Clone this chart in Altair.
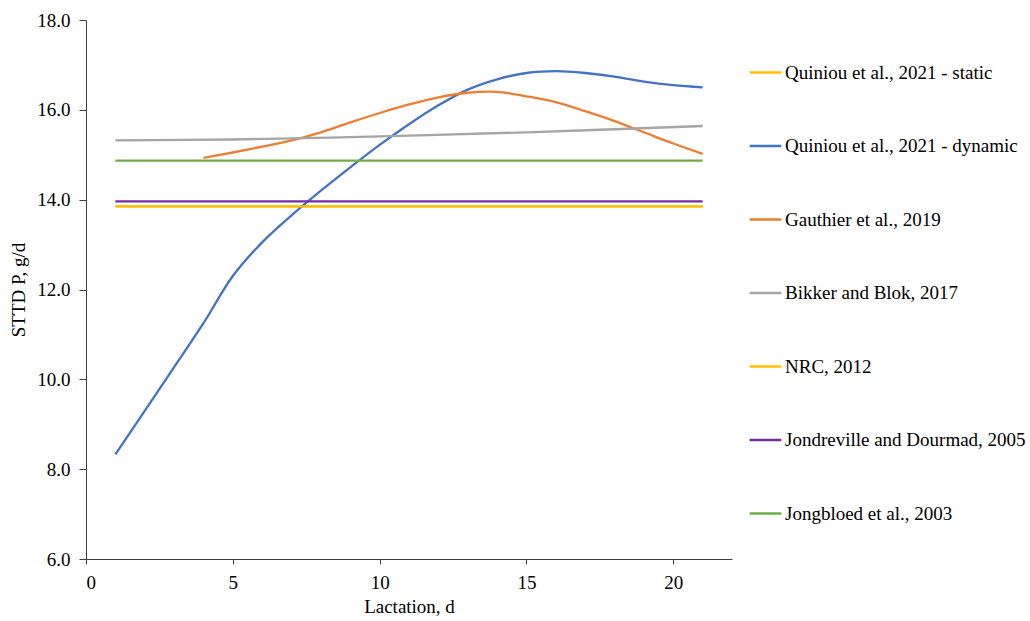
import altair as alt
import pandas as pd

series_names = [
    "Quiniou et al., 2021 - static",
    "Quiniou et al., 2021 - dynamic",
    "Gauthier et al., 2019",
    "Bikker and Blok, 2017",
    "NRC, 2012",
    "Jondreville and Dourmad, 2005",
    "Jongbloed et al., 2003",
]
series_colors = ["#FFC000", "#4472C4", "#ED7D31", "#A5A5A5", "#FFC000", "#7030A0", "#70AD47"]

static_x = [1, 21]
static_y = [13.85, 13.85]

dynamic_x = list(range(1, 22))
dynamic_y = [8.33, 9.3, 10.27, 11.25, 12.3, 13.05, 13.65, 14.2, 14.72, 15.22, 15.68,
             16.1, 16.45, 16.68, 16.82, 16.86, 16.82, 16.74, 16.63, 16.55, 16.5]

gauthier_x = list(range(4, 22))
gauthier_y = [14.93, 15.05, 15.18, 15.32, 15.5, 15.72, 15.93, 16.12, 16.28, 16.38, 16.4,
              16.3, 16.17, 15.97, 15.75, 15.5, 15.25, 15.02]

bikker_x = [1, 5, 10, 15, 21]
bikker_y = [15.32, 15.34, 15.41, 15.5, 15.64]

nrc_x = [1, 21]
nrc_y = [13.85, 13.85]

jondreville_x = [1, 21]
jondreville_y = [13.96, 13.96]

jongbloed_x = [1, 21]
jongbloed_y = [14.87, 14.87]

x_ticks = [0, 5, 10, 15, 20]
y_ticks = [6, 8, 10, 12, 14, 16, 18]

all_x = [static_x, dynamic_x, gauthier_x, bikker_x, nrc_x, jondreville_x, jongbloed_x]
all_y = [static_y, dynamic_y, gauthier_y, bikker_y, nrc_y, jondreville_y, jongbloed_y]

rows = []
for i, (name, xs, ys) in enumerate(zip(series_names, all_x, all_y)):
    for x, y in zip(xs, ys):
        rows.append({"series": name, "order": i, "day": x, "value": y})
df = pd.DataFrame(rows)

FONT = "Liberation Serif"

chart = alt.Chart(df).mark_line(interpolate="catmull-rom", strokeWidth=2.3).encode(
    x=alt.X("day:Q", scale=alt.Scale(domain=[0, 22], nice=False),
            axis=alt.Axis(values=x_ticks, title="Lactation, d", tickSize=5,
                          labelPadding=9, titlePadding=5)),
    y=alt.Y("value:Q", scale=alt.Scale(domain=[6, 18], nice=False),
            axis=alt.Axis(values=y_ticks, format=".1f", title="STTD P, g/d", tickSize=7,
                          labelPadding=9, titlePadding=8)),
    color=alt.Color("series:N", sort=series_names,
                    scale=alt.Scale(domain=series_names, range=series_colors),
                    legend=alt.Legend(title=None, orient="none", legendX=662, legendY=35,
                                      symbolType="stroke", symbolStrokeWidth=2.5,
                                      symbolSize=1000, rowPadding=45.5, labelOffset=2,
                                      labelLimit=400)),
    detail="order:N",
).properties(
    width=646, height=539,
    autosize=alt.AutoSizeParams(type="none"),
    padding={"left": 86, "top": 20, "right": 298, "bottom": 62},
).configure(
    background="white", font=FONT
).configure_axis(
    labelFont=FONT, titleFont=FONT, labelFontSize=19, titleFontSize=19,
    titleFontWeight="normal", labelColor="black", titleColor="black",
    domainColor="#404040", tickColor="#404040", grid=False,
).configure_legend(
    labelFont=FONT, labelFontSize=19, labelColor="black",
).configure_view(stroke=None)

chart.save("out.html", embed_options={"renderer": "svg", "actions": False})
